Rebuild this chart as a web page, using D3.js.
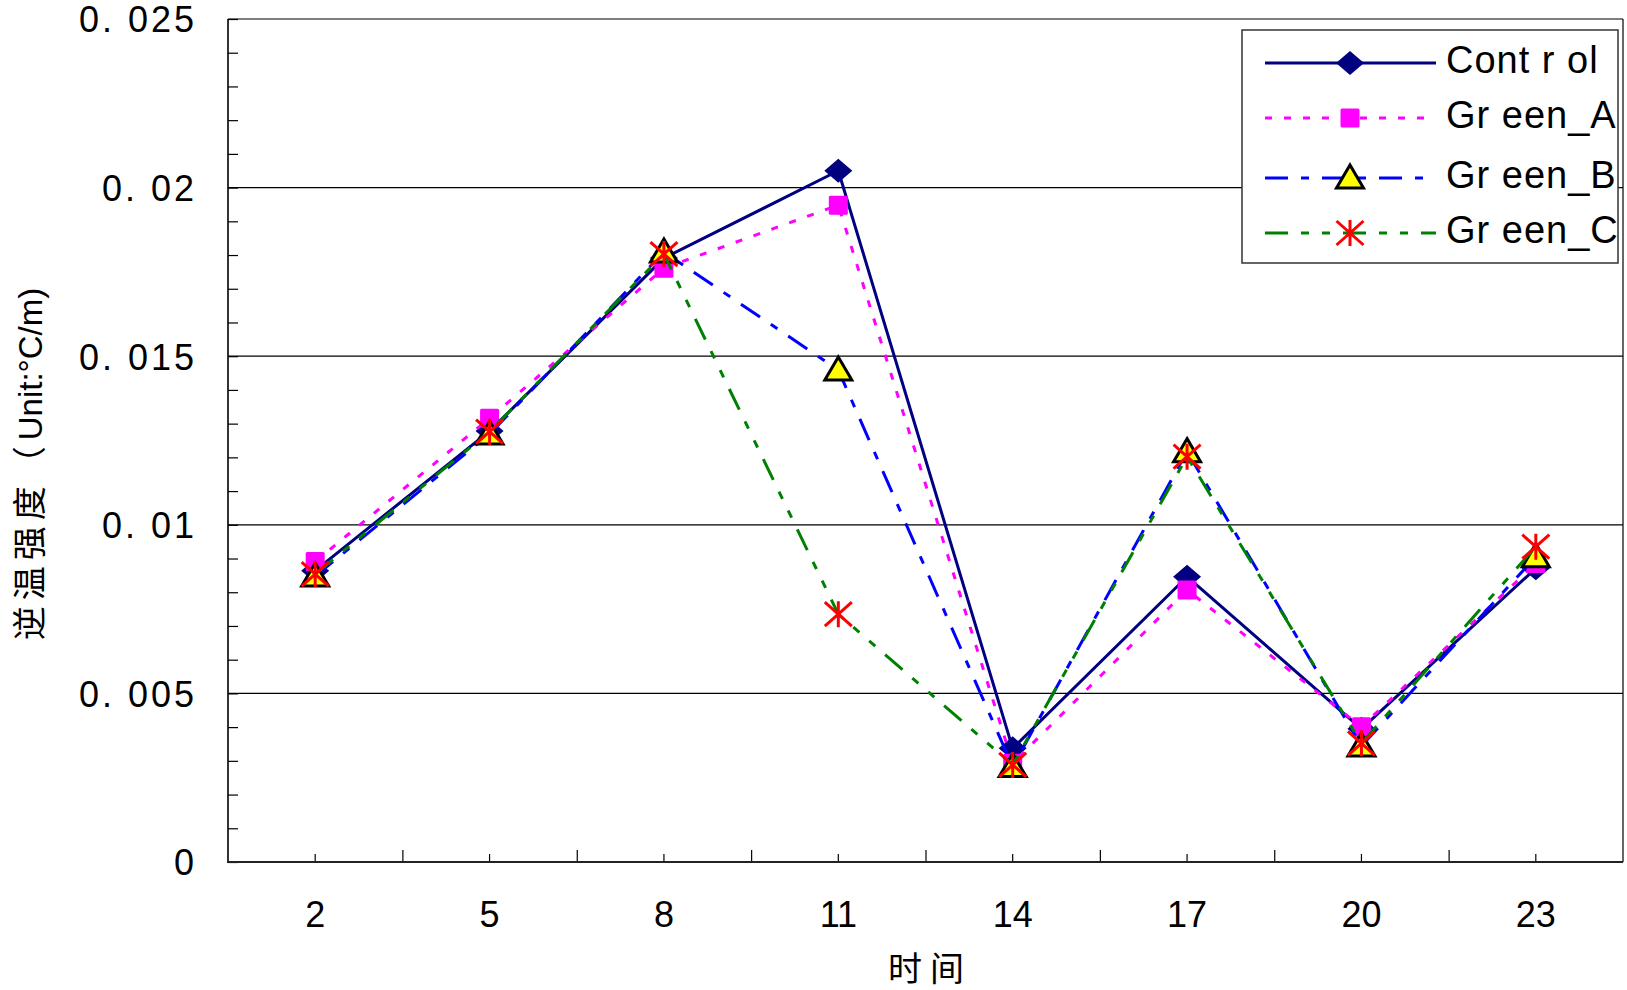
<!DOCTYPE html>
<html><head><meta charset="utf-8">
<script src="https://cdn.jsdelivr.net/npm/d3@7"></script>
<style>html,body{margin:0;padding:0;background:#fff;} svg{display:block}</style>
</head><body>
<svg id="c" width="1627" height="990"></svg>
<script>
// ---- data ----
const categories = ["2","5","8","11","14","17","20","23"];
const controlValues = [0.00864, 0.01278, 0.01791, 0.02050, 0.00337, 0.00846, 0.00395, 0.00871];
const greenAValues  = [0.00891, 0.01316, 0.01761, 0.01948, 0.00293, 0.00807, 0.00401, 0.00885];
const greenBValues  = [0.00848, 0.01269, 0.01809, 0.01459, 0.00283, 0.01217, 0.00344, 0.00905];
const greenCValues  = [0.00854, 0.01276, 0.01803, 0.00735, 0.00288, 0.01202, 0.00352, 0.00935];
const seriesNames = ["Cont r ol", "Gr een_A", "Gr een_B", "Gr een_C"];
const yTickValues = [0, 0.005, 0.01, 0.015, 0.02, 0.025];
const yTickLabels = ["0", "0. 005", "0. 01", "0. 015", "0. 02", "0. 025"];
const xTitle = "时间";
const yTitleCJK = "逆温强度（";
const yTitleLatin = "Unit:°C/m)";

// ---- layout / styles ----
const L = 228, R = 1623, T = 19, B = 862;
const svg = d3.select("#c");
const x = d3.scaleBand().domain(categories).range([L, R]).padding(0);
const xb = d3.scaleLinear().domain([0, categories.length]).range([L, R]);
const y = d3.scaleLinear().domain([0, 0.025]).range([B, T]);

const styles = [
  {values: controlValues, color: "#000080", dash: null, marker: "diamond"},
  {values: greenAValues,  color: "#FF00FF", dash: "7,12", marker: "square"},
  {values: greenBValues,  color: "#0000FF", dash: "23,13,8,13", marker: "triangle"},
  {values: greenCValues,  color: "#008000", dash: "23,13,8,13,8,13", marker: "asterisk"}
];

// gridlines
svg.append("g").selectAll("line").data(yTickValues.filter(v => v > 0 && v < 0.025)).join("line")
  .attr("x1", L).attr("x2", R).attr("y1", d => y(d)).attr("y2", d => y(d))
  .attr("stroke", "#000").attr("stroke-width", 1.2);

// plot border (top, right)
svg.append("line").attr("x1", L).attr("x2", R).attr("y1", y(0.025)).attr("y2", y(0.025)).attr("stroke", "#000").attr("stroke-width", 1.2);
svg.append("line").attr("x1", R).attr("x2", R).attr("y1", T).attr("y2", B).attr("stroke", "#000").attr("stroke-width", 1.2);

// y minor ticks (inside)
const yMinor = svg.append("g").attr("transform", `translate(${L},0)`)
  .call(d3.axisRight(y).tickValues(d3.range(0, 26).map(i => i * 0.001)).tickSize(10).tickFormat(""));
yMinor.select(".domain").remove();
yMinor.selectAll("line").attr("stroke", "#000").attr("stroke-width", 1.2);

// y labels
const yLab = svg.append("g").attr("transform", `translate(${L},0)`)
  .call(d3.axisLeft(y).tickValues(yTickValues).tickSize(0).tickPadding(31)
    .tickFormat((d, i) => yTickLabels[i]));
yLab.select(".domain").remove();
yLab.selectAll("text").attr("font-family", "'Liberation Sans', Arial, sans-serif")
  .attr("font-size", 36).attr("letter-spacing", "3px").attr("fill", "#000").attr("dy", "0.36em");

// left axis line
svg.append("line").attr("x1", L).attr("x2", L).attr("y1", T).attr("y2", B).attr("stroke", "#000").attr("stroke-width", 1.6);

// x ticks (inside, upward)
const xc = svg.append("g").attr("transform", `translate(0,${B})`)
  .call(d3.axisTop(x).tickSize(8).tickFormat(""));
xc.select(".domain").remove();
xc.selectAll("line").attr("stroke", "#000").attr("stroke-width", 1.2);
const xbd = svg.append("g").attr("transform", `translate(0,${B})`)
  .call(d3.axisTop(xb).tickValues(d3.range(1, categories.length)).tickSize(12).tickFormat(""));
xbd.select(".domain").remove();
xbd.selectAll("line").attr("stroke", "#000").attr("stroke-width", 1.2);

// x labels
const xLab = svg.append("g").attr("transform", `translate(0,${B})`)
  .call(d3.axisBottom(x).tickSize(0));
xLab.select(".domain").remove();
xLab.selectAll("text").attr("font-family", "'Liberation Sans', Arial, sans-serif")
  .attr("font-size", 36).attr("fill", "#000").attr("y", 65).attr("dy", 0);

// bottom axis line
svg.append("line").attr("x1", L - 1).attr("x2", R).attr("y1", B).attr("y2", B).attr("stroke", "#222").attr("stroke-width", 2.2);

// titles
svg.append("text").attr("x", 926 + 4).attr("y", 981).attr("text-anchor", "middle")
  .attr("font-family", "'Noto Sans CJK SC', sans-serif").attr("font-size", 34)
  .attr("letter-spacing", "8px").attr("fill", "#000").text(xTitle);
const yt = svg.append("text").attr("transform", "translate(42,464) rotate(-90)").attr("text-anchor", "middle")
  .attr("fill", "#000");
yt.append("tspan").attr("font-family", "'Noto Sans CJK SC', sans-serif").attr("font-size", 34)
  .attr("letter-spacing", "6px").text(yTitleCJK);
yt.append("tspan").attr("font-family", "'Liberation Sans', Arial, sans-serif").attr("font-size", 33)
  .text(yTitleLatin);

// markers
function drawMarker(g, type, cx, cy) {
  if (type === "diamond") {
    g.append("path").attr("d", `M${cx},${cy-12}L${cx+14},${cy}L${cx},${cy+12}L${cx-14},${cy}Z`).attr("fill", "#000080");
  } else if (type === "square") {
    g.append("rect").attr("x", cx - 9.5).attr("y", cy - 9.5).attr("width", 19).attr("height", 19).attr("rx", 1.5).attr("fill", "#FF00FF");
  } else if (type === "triangle") {
    g.append("path").attr("d", `M${cx},${cy-13}L${cx+13.5},${cy+10}L${cx-13.5},${cy+10}Z`)
      .attr("fill", "#FFFF00").attr("stroke", "#000").attr("stroke-width", 3).attr("stroke-linejoin", "miter");
  } else if (type === "asterisk") {
    g.append("path").attr("d", `M${cx-13.5},${cy-12}L${cx+13.5},${cy+12}M${cx+13.5},${cy-12}L${cx-13.5},${cy+12}M${cx},${cy-13}L${cx},${cy+13}`)
      .attr("fill", "none").attr("stroke", "#FF0000").attr("stroke-width", 3);
  }
}

const line = d3.line().x((d, i) => x(categories[i]) + x.bandwidth() / 2).y(d => y(d));
const plotG = svg.append("g");
styles.forEach(s => {
  const g = plotG.append("g");
  g.append("path").datum(s.values).attr("d", line).attr("fill", "none")
    .attr("stroke", s.color).attr("stroke-width", 3).attr("stroke-dasharray", s.dash)
    .attr("stroke-linejoin", "round");
  s.values.forEach((v, i) => drawMarker(g, s.marker, x(categories[i]) + x.bandwidth() / 2, y(v)));
});

// legend
const legendRows = [63, 118, 178, 233];
const lg = svg.append("g");
lg.append("rect").attr("x", 1242).attr("y", 30).attr("width", 376).attr("height", 233)
  .attr("fill", "#fff").attr("stroke", "#333").attr("stroke-width", 1.5);
styles.forEach((s, i) => {
  const ry = legendRows[i];
  lg.append("line").attr("x1", 1265).attr("x2", 1436).attr("y1", ry).attr("y2", ry)
    .attr("stroke", s.color).attr("stroke-width", 3).attr("stroke-dasharray", s.dash);
  drawMarker(lg, s.marker, 1350, ry);
  lg.append("text").attr("x", 1446).attr("y", ry + 10)
    .attr("font-family", "'Liberation Sans', Arial, sans-serif").attr("font-size", 38)
    .attr("letter-spacing", "1px").attr("fill", "#000").text(seriesNames[i]);
});
</script>
</body></html>
